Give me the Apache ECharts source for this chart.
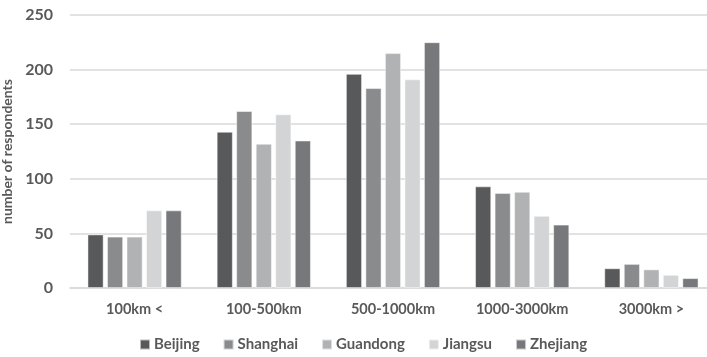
<!DOCTYPE html>
<html>
<head>
<meta charset="utf-8">
<script src="https://cdn.jsdelivr.net/npm/echarts@6/dist/echarts.min.js"></script>
<style>
  html, body { margin: 0; padding: 0; background: #fff; }
  #chart { width: 707px; height: 357px; }
</style>
</head>
<body>
<div id="chart"></div>
<script>
// Distance bands
const categories = ['100km <', '100-500km', '500-1000km', '1000-3000km', '3000km >'];

// Respondents per region in each distance band
const beijing   = [49, 143, 196, 93, 18];
const shanghai  = [47, 162, 183, 87, 22];
const guandong  = [47, 132, 215, 88, 17];
const jiangsu   = [71, 159, 191, 66, 12];
const zhejiang  = [71, 135, 225, 58, 9];

const seriesNames = ['Beijing', 'Shanghai', 'Guandong', 'Jiangsu', 'Zhejiang'];
const seriesData = [beijing, shanghai, guandong, jiangsu, zhejiang];
const seriesColors = ['#58595b', '#8a8b8d', '#b1b2b4', '#d3d4d6', '#77787b'];

const yTicks = { min: 0, max: 250, interval: 50 };

const textColor = '#595959';
const font = 'Lato, "Open Sans", sans-serif';

const chart = echarts.init(document.getElementById('chart'));
chart.setOption({
  animation: false,
  backgroundColor: '#fff',
  // the plot runs slightly past the right edge of the canvas
  grid: { left: 70, top: 15, bottom: 69, width: 646, containLabel: false, outerBoundsMode: 'none' },
  legend: {
    data: seriesNames,
    bottom: 0,
    left: 134,
    itemWidth: 10,
    itemHeight: 10,
    itemGap: 23,
    icon: 'rect',
    textStyle: { color: textColor, fontFamily: font, fontWeight: 'bold', fontSize: 15, padding: [0, 0, 0, -1] }
  },
  xAxis: {
    type: 'category',
    data: categories,
    axisLine: { lineStyle: { color: '#d9d9d9', width: 1.5 } },
    axisTick: { show: false },
    axisLabel: { color: textColor, fontFamily: font, fontWeight: 'bold', fontSize: 14.5, margin: 14 }
  },
  yAxis: {
    type: 'value',
    min: yTicks.min,
    max: yTicks.max,
    interval: yTicks.interval,
    name: 'number of respondents',
    nameLocation: 'middle',
    nameGap: 50,
    nameTextStyle: { color: textColor, fontFamily: font, fontWeight: 'bold', fontSize: 14 },
    axisLine: { show: false },
    axisTick: { show: false },
    splitLine: { lineStyle: { color: '#d9d9d9', width: 1.5 } },
    axisLabel: { color: textColor, fontFamily: font, fontWeight: 'bold', fontSize: 16, margin: 17 }
  },
  series: seriesNames.map((name, i) => ({
    name: name,
    type: 'bar',
    data: seriesData[i],
    barWidth: 16,
    barGap: '22%',
    itemStyle: { color: seriesColors[i], borderColor: 'rgba(255,255,255,0.6)', borderWidth: 0.8 }
  }))
});
</script>
</body>
</html>
